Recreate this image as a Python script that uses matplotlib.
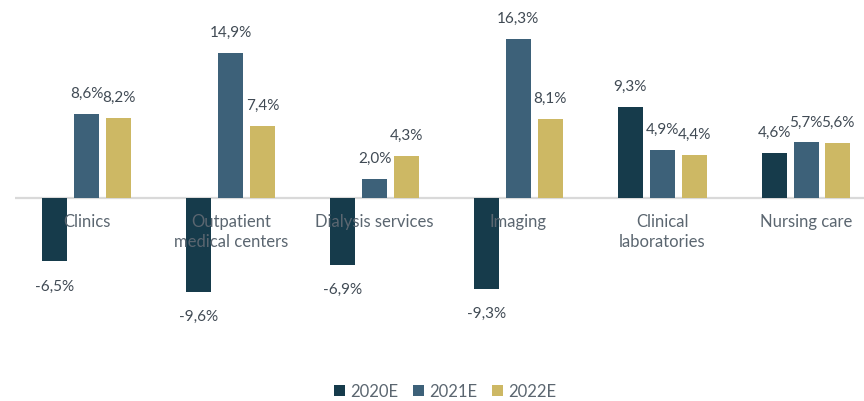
import numpy as np
import matplotlib.pyplot as plt

# growth by segment, values in %
categories = ['Clinics', 'Outpatient\nmedical centers', 'Dialysis services',
              'Imaging', 'Clinical\nlaboratories', 'Nursing care']
series_names = ['2020E', '2021E', '2022E']
vals_2020 = [-6.5, -9.6, -6.9, -9.3, 9.3, 4.6]
vals_2021 = [8.6, 14.9, 2.0, 16.3, 4.9, 5.7]
vals_2022 = [8.2, 7.4, 4.3, 8.1, 4.4, 5.6]

colors = ['#163b4b', '#3d6179', '#cdb864']
value_color = '#404a54'
cat_color = '#5b6670'

plt.rcParams['font.family'] = ['Lato', 'DejaVu Sans']

fig = plt.figure(figsize=(8.64, 4.02), dpi=100)
ax = fig.add_axes([15 / 864, 42 / 402, 849 / 864, 360 / 402])

x = np.arange(len(categories))
width = 0.174
step = 0.222

for k, vals in enumerate([vals_2020, vals_2021, vals_2022]):
    xs = x + (k - 1) * step
    ax.bar(xs, vals, width, color=colors[k], label=series_names[k], zorder=2)
    for xi, v in zip(xs, vals):
        txt = f"{v:.1f}%".replace('.', ',')
        off = 21 if v >= 0 else -24
        ax.annotate(txt, xy=(xi, v), xytext=(0, off), textcoords='offset pixels',
                    ha='center', va='center', fontsize=11, color=value_color, zorder=4)

ax.axhline(0, color='#d9d9d9', lw=1.6, zorder=1)

for xi, name in zip(x, categories):
    ax.annotate(name, xy=(xi, 0), xytext=(0, -15), textcoords='offset pixels',
                ha='center', va='top', fontsize=12, color=cat_color, zorder=5,
                linespacing=1.3)

ax.set_xlim(-0.5, 5.403)
ax.set_ylim(-16.5, 20.4)
ax.axis('off')

fig.legend(loc='center', bbox_to_anchor=(0.515, 0.025), ncol=3, frameon=False,
           handlelength=0.65, handleheight=0.65, handletextpad=0.3,
           columnspacing=0.9, fontsize=12, labelcolor=cat_color)

fig.savefig('out.png', dpi=100)
